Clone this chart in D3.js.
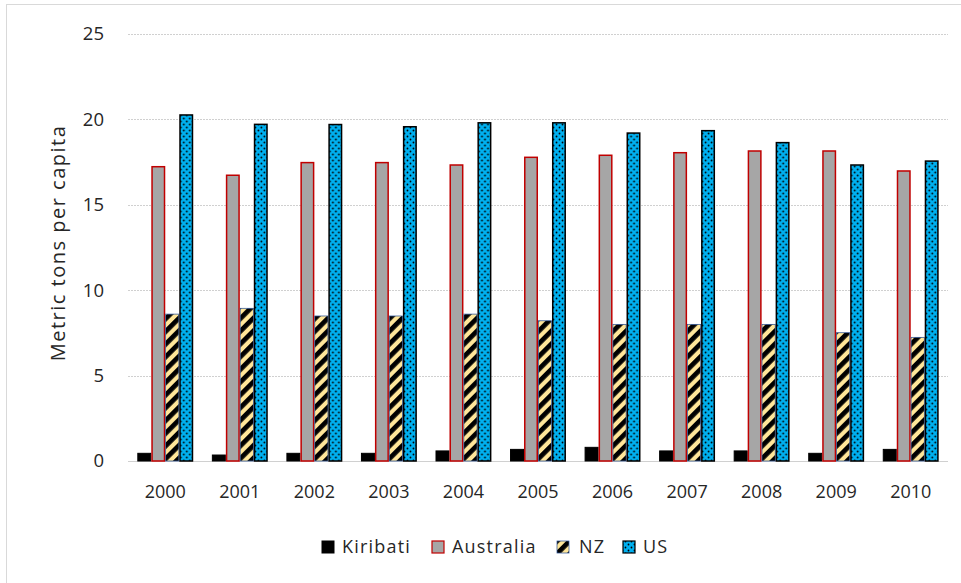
<!DOCTYPE html>
<html><head><meta charset="utf-8">
<script src="https://cdn.jsdelivr.net/npm/d3@7"></script>
<style>body{margin:0;background:#fff;} svg{display:block;font-family:"Open Sans",sans-serif;}</style>
</head><body>
<svg id="c" width="961" height="583"></svg>
<script>
const years = ["2000","2001","2002","2003","2004","2005","2006","2007","2008","2009","2010"];
const seriesNames = ["Kiribati","Australia","NZ","US"];
const kiribati = [0.45,0.35,0.45,0.45,0.59,0.68,0.8,0.59,0.59,0.45,0.68];
const australia = [17.23,16.73,17.47,17.47,17.33,17.78,17.9,18.05,18.15,18.15,16.98];
const nz = [8.6,8.94,8.49,8.49,8.6,8.21,8.0,8.0,8.0,7.51,7.24];
const us = [20.26,19.71,19.7,19.57,19.8,19.8,19.2,19.34,18.64,17.33,17.56];
const yTicks = [0,5,10,15,20,25];
const yLabel = "Metric tons per capita";

const values = {Kiribati:kiribati, Australia:australia, NZ:nz, US:us};
const svg = d3.select("#c");
const defs = svg.append("defs");
// NZ stripes
const pz = defs.append("pattern").attr("id","stripes").attr("patternUnits","userSpaceOnUse")
  .attr("width",9).attr("height",9).attr("patternTransform","rotate(45)");
pz.append("rect").attr("width",9).attr("height",9).attr("fill","#ffe699");
pz.append("rect").attr("width",4.8).attr("height",9).attr("fill","#000");
// US dots
const pu = defs.append("pattern").attr("id","dots").attr("patternUnits","userSpaceOnUse")
  .attr("width",6).attr("height",6);
pu.append("rect").attr("width",6).attr("height",6).attr("fill","#00b0f0");
pu.append("circle").attr("cx",1.5).attr("cy",1.5).attr("r",0.9).attr("fill","#000");
pu.append("circle").attr("cx",4.5).attr("cy",4.5).attr("r",0.9).attr("fill","#000");

const styles = {
  Kiribati:{fill:"#000", stroke:"#000", sw:1},
  Australia:{fill:"#a6a6a6", stroke:"#c00000", sw:1.5},
  NZ:{fill:"url(#stripes)", stroke:"#2f5597", sw:0.75},
  US:{fill:"url(#dots)", stroke:"#000", sw:1.5}
};

svg.append("rect").attr("x",6.5).attr("y",4.5).attr("width",1000).attr("height",1000)
  .attr("fill","none").attr("stroke","#d9d9d9");

const x0 = d3.scaleBand().domain(years).range([128,948]).paddingInner(0.25).paddingOuter(0.125);
const x1 = d3.scaleBand().domain(seriesNames).range([0,x0.bandwidth()]);
const y = d3.scaleLinear().domain([0,25]).range([461,34]);

// gridlines
svg.append("g").selectAll("line").data(yTicks).join("line")
  .attr("x1",128).attr("x2",948).attr("y1",d=>Math.round(y(d))+0.5).attr("y2",d=>Math.round(y(d))+0.5)
  .attr("stroke","#d0d0d0").attr("stroke-width",1).attr("stroke-dasharray",d=>d===0?null:"2,1");

// y tick labels
svg.append("g").selectAll("text").data(yTicks).join("text")
  .attr("x",104).attr("y",d=>y(d)).attr("dy","0.35em").attr("text-anchor","end")
  .attr("font-size",18.5).attr("fill","#262626").text(d=>d);

// x labels
svg.append("g").selectAll("text").data(years).join("text")
  .attr("x",d=>x0(d)+x0.bandwidth()/2).attr("y",492).attr("dy","0.35em").attr("text-anchor","middle")
  .attr("font-size",18).attr("fill","#262626").text(d=>d);

// y axis label
svg.append("text").attr("transform","translate(65,243) rotate(-90)").attr("text-anchor","middle")
  .attr("font-size",20).attr("letter-spacing",1.5).attr("fill","#262626").text(yLabel);

// bars
const groups = svg.append("g").selectAll("g").data(years).join("g")
  .attr("transform",d=>`translate(${x0(d)},0)`);
groups.selectAll("rect").data((d,i)=>seriesNames.map(s=>({s, v:values[s][i]}))).join("rect")
  .attr("x",d=>x1(d.s)+styles[d.s].sw/2).attr("width",d=>x1.bandwidth()-styles[d.s].sw)
  .attr("y",d=>y(d.v)).attr("height",d=>y(0)-y(d.v))
  .attr("fill",d=>styles[d.s].fill).attr("stroke",d=>styles[d.s].stroke).attr("stroke-width",d=>styles[d.s].sw);

// legend
const legX = [322,432,557,623];
const legT = [342,452,579,643];
const leg = svg.append("g").selectAll("g").data(seriesNames).join("g");
leg.append("rect").attr("x",(d,i)=>legX[i]).attr("y",541).attr("width",12).attr("height",12)
  .attr("fill",d=>styles[d].fill).attr("stroke",d=>styles[d].stroke).attr("stroke-width",d=>Math.min(styles[d].sw,1.2));
leg.append("text").attr("x",(d,i)=>legT[i]).attr("y",547).attr("dy","0.35em")
  .attr("font-size",18).attr("letter-spacing",1.2).attr("fill","#262626").text(d=>d);
</script>
</body></html>
